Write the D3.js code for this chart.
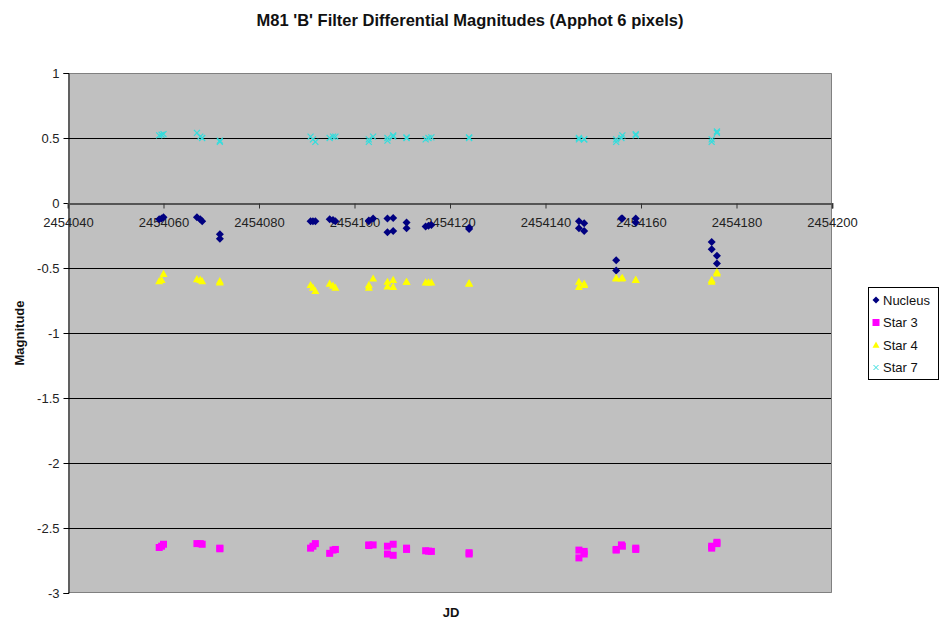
<!DOCTYPE html>
<html>
<head>
<meta charset="utf-8">
<script src="https://cdn.jsdelivr.net/npm/d3@7"></script>
<style>
  html, body { margin: 0; padding: 0; background: #fff; }
  svg { display: block; font-family: "Liberation Sans", Arial, sans-serif; }
</style>
</head>
<body>
<svg id="chart" width="939" height="626"></svg>
<script>
// Julian dates of each observation
const jd = [
  2454059.1, 2454059.6, 2454060.0, 2454067.0, 2454067.7, 2454068.1, 2454071.8, 2454071.8,
  2454090.8, 2454091.3, 2454091.8, 2454094.8, 2454095.5, 2454096.0,
  2454103.0, 2454103.0, 2454103.9, 2454106.9, 2454106.9, 2454108.1, 2454108.1,
  2454110.9, 2454110.9, 2454114.9, 2454115.5, 2454116.1, 2454124.0, 2454124.0,
  2454147.0, 2454147.0, 2454148.1, 2454148.1, 2454154.8, 2454154.8, 2454155.9, 2454156.1,
  2454158.9, 2454158.9, 2454174.8, 2454174.8, 2454175.9, 2454175.9
];
const nucleus = [
  -0.125, -0.12, -0.11, -0.11, -0.125, -0.14, -0.24, -0.275,
  -0.14, -0.14, -0.14, -0.125, -0.13, -0.14,
  -0.14, -0.135, -0.12, -0.12, -0.225, -0.115, -0.215,
  -0.15, -0.195, -0.18, -0.175, -0.17, -0.20, -0.19,
  -0.14, -0.195, -0.155, -0.215, -0.44, -0.52, -0.12, -0.12,
  -0.12, -0.15, -0.30, -0.355, -0.405, -0.465
];
const star3 = [
  -2.65, -2.64, -2.625, -2.62, -2.62, -2.625, -2.655, -2.66,
  -2.655, -2.64, -2.62, -2.695, -2.67, -2.665,
  -2.63, -2.635, -2.63, -2.64, -2.70, -2.625, -2.71,
  -2.655, -2.665, -2.675, -2.678, -2.68, -2.69, -2.70,
  -2.67, -2.73, -2.68, -2.70, -2.665, -2.67, -2.63, -2.64,
  -2.655, -2.665, -2.655, -2.64, -2.61, -2.62
];
const star4 = [
  -0.60, -0.59, -0.545, -0.585, -0.59, -0.60, -0.61, -0.60,
  -0.63, -0.65, -0.675, -0.62, -0.635, -0.65,
  -0.63, -0.65, -0.58, -0.605, -0.64, -0.59, -0.645,
  -0.605, -0.605, -0.61, -0.61, -0.61, -0.615, -0.62,
  -0.605, -0.645, -0.62, -0.63, -0.58, -0.575, -0.58, -0.575,
  -0.59, -0.59, -0.59, -0.605, -0.53, -0.54
];
const star7 = [
  0.52, 0.525, 0.53, 0.54, 0.51, 0.50, 0.47, 0.48,
  0.51, 0.49, 0.47, 0.50, 0.51, 0.51,
  0.47, 0.49, 0.51, 0.48, 0.50, 0.52, 0.51,
  0.505, 0.50, 0.49, 0.50, 0.505, 0.505, 0.50,
  0.50, 0.49, 0.49, 0.49, 0.47, 0.49, 0.50, 0.52,
  0.53, 0.52, 0.47, 0.49, 0.55, 0.54
];

const xTicks = [2454040, 2454060, 2454080, 2454100, 2454120, 2454140, 2454160, 2454180, 2454200];
const yTicks = [1, 0.5, 0, -0.5, -1, -1.5, -2, -2.5, -3];

const titleText = "M81 'B' Filter Differential Magnitudes (Apphot 6 pixels)";
const xTitle = "JD";
const yTitle = "Magnitude";

const seriesNames = ["Nucleus", "Star 3", "Star 4", "Star 7"];
const seriesValues = [nucleus, star3, star4, star7];
const seriesColors = ["#000080", "#FF00FF", "#FFFF00", "#33DDDD"];
const seriesShapes = ["diamond", "square", "triangle", "cross"];

const svg = d3.select("#chart");
const plot = { left: 68, top: 73, right: 832, bottom: 593 };

const x = d3.scaleLinear().domain([xTicks[0], xTicks[xTicks.length - 1]]).range([plot.left, plot.right]);
const y = d3.scaleLinear().domain([-3, 1]).range([plot.bottom, plot.top]);

// plot background
svg.append("rect")
  .attr("x", plot.left).attr("y", plot.top)
  .attr("width", plot.right - plot.left).attr("height", plot.bottom - plot.top)
  .attr("fill", "#C0C0C0");

// horizontal gridlines
svg.append("g").selectAll("line").data(yTicks.filter(v => v !== 1 && v !== -3)).join("line")
  .attr("x1", plot.left).attr("x2", plot.right)
  .attr("y1", d => Math.round(y(d)) + 0.5).attr("y2", d => Math.round(y(d)) + 0.5)
  .attr("stroke", "#000").attr("stroke-width", 1);

// plot border (right and bottom)
svg.append("path")
  .attr("d", `M${plot.left},${plot.top + 0.5}H${plot.right - 0.5}V${plot.bottom - 0.5}H${plot.left}`)
  .attr("fill", "none").attr("stroke", "#808080").attr("stroke-width", 1);

// y axis
const yAxis = d3.axisLeft(y).tickValues(yTicks).tickSize(5).tickPadding(4);
const yg = svg.append("g").attr("transform", `translate(${plot.left + 0.5},0)`).call(yAxis);
yg.select(".domain").attr("stroke", "#000");
yg.selectAll(".tick line").attr("stroke", "#000");
yg.selectAll(".tick text").attr("font-size", 13).attr("fill", "#222")
  .attr("font-family", "Liberation Sans, Arial, sans-serif")
  .text(d => d < 0 ? "-" + Math.abs(d) : String(d));

// x axis crossing at magnitude 0
const xAxis = d3.axisBottom(x).tickValues(xTicks).tickSize(5).tickPadding(9).tickFormat(d3.format("d"));
const xg = svg.append("g").attr("transform", `translate(0,${Math.round(y(0)) + 0.5})`).call(xAxis);
xg.select(".domain").attr("stroke", "#555").attr("stroke-width", 2);
xg.selectAll(".tick line").attr("stroke", "#333");
xg.selectAll(".tick text").attr("font-size", 13).attr("fill", "#222")
  .attr("font-family", "Liberation Sans, Arial, sans-serif");

// marker symbols
function marker(shape, size) {
  const h = size / 2;
  if (shape === "diamond") return `M0,${-h}L${h},0L0,${h}L${-h},0Z`;
  if (shape === "square") return `M${-h},${-h}H${h}V${h}H${-h}Z`;
  if (shape === "triangle") return `M0,${-h}L${h},${h * 0.8}L${-h},${h * 0.8}Z`;
  return `M${-h},${-h}L${h},${h}M${h},${-h}L${-h},${h}`;
}
const markerSize = [8, 7, 8, 6];

seriesValues.forEach((vals, si) => {
  const g = svg.append("g");
  g.selectAll("path").data(vals.map((v, i) => [jd[i], v])).join("path")
    .attr("transform", d => `translate(${x(d[0])},${y(d[1])})`)
    .attr("d", marker(seriesShapes[si], markerSize[si]))
    .attr("fill", seriesShapes[si] === "cross" ? "none" : seriesColors[si])
    .attr("stroke", seriesShapes[si] === "cross" ? seriesColors[si] : "none")
    .attr("stroke-width", 1.2);
});

// titles
svg.append("text").attr("x", 470).attr("y", 26).attr("text-anchor", "middle")
  .attr("font-size", 16.5).attr("font-weight", "bold").attr("fill", "#111").text(titleText);
svg.append("text").attr("x", 451).attr("y", 617).attr("text-anchor", "middle")
  .attr("font-size", 13).attr("font-weight", "bold").attr("fill", "#111").text(xTitle);
svg.append("text").attr("transform", "translate(24,333) rotate(-90)").attr("text-anchor", "middle")
  .attr("font-size", 13).attr("font-weight", "bold").attr("fill", "#111").text(yTitle);

// legend
const legend = svg.append("g").attr("transform", "translate(868,287)");
legend.append("rect").attr("x", 0.5).attr("y", 0.5).attr("width", 70).attr("height", 92)
  .attr("fill", "#fff").attr("stroke", "#000");
seriesNames.forEach((name, i) => {
  const cy = 13 + i * 22.5;
  legend.append("path").attr("transform", `translate(8,${cy})`)
    .attr("d", marker(seriesShapes[i], seriesShapes[i] === "cross" ? 5 : 7))
    .attr("fill", seriesShapes[i] === "cross" ? "none" : seriesColors[i])
    .attr("stroke", seriesShapes[i] === "cross" ? seriesColors[i] : "none");
  legend.append("text").attr("x", 15).attr("y", cy + 4.5).attr("font-size", 13)
    .attr("fill", "#111").text(name);
});
</script>
</body>
</html>
